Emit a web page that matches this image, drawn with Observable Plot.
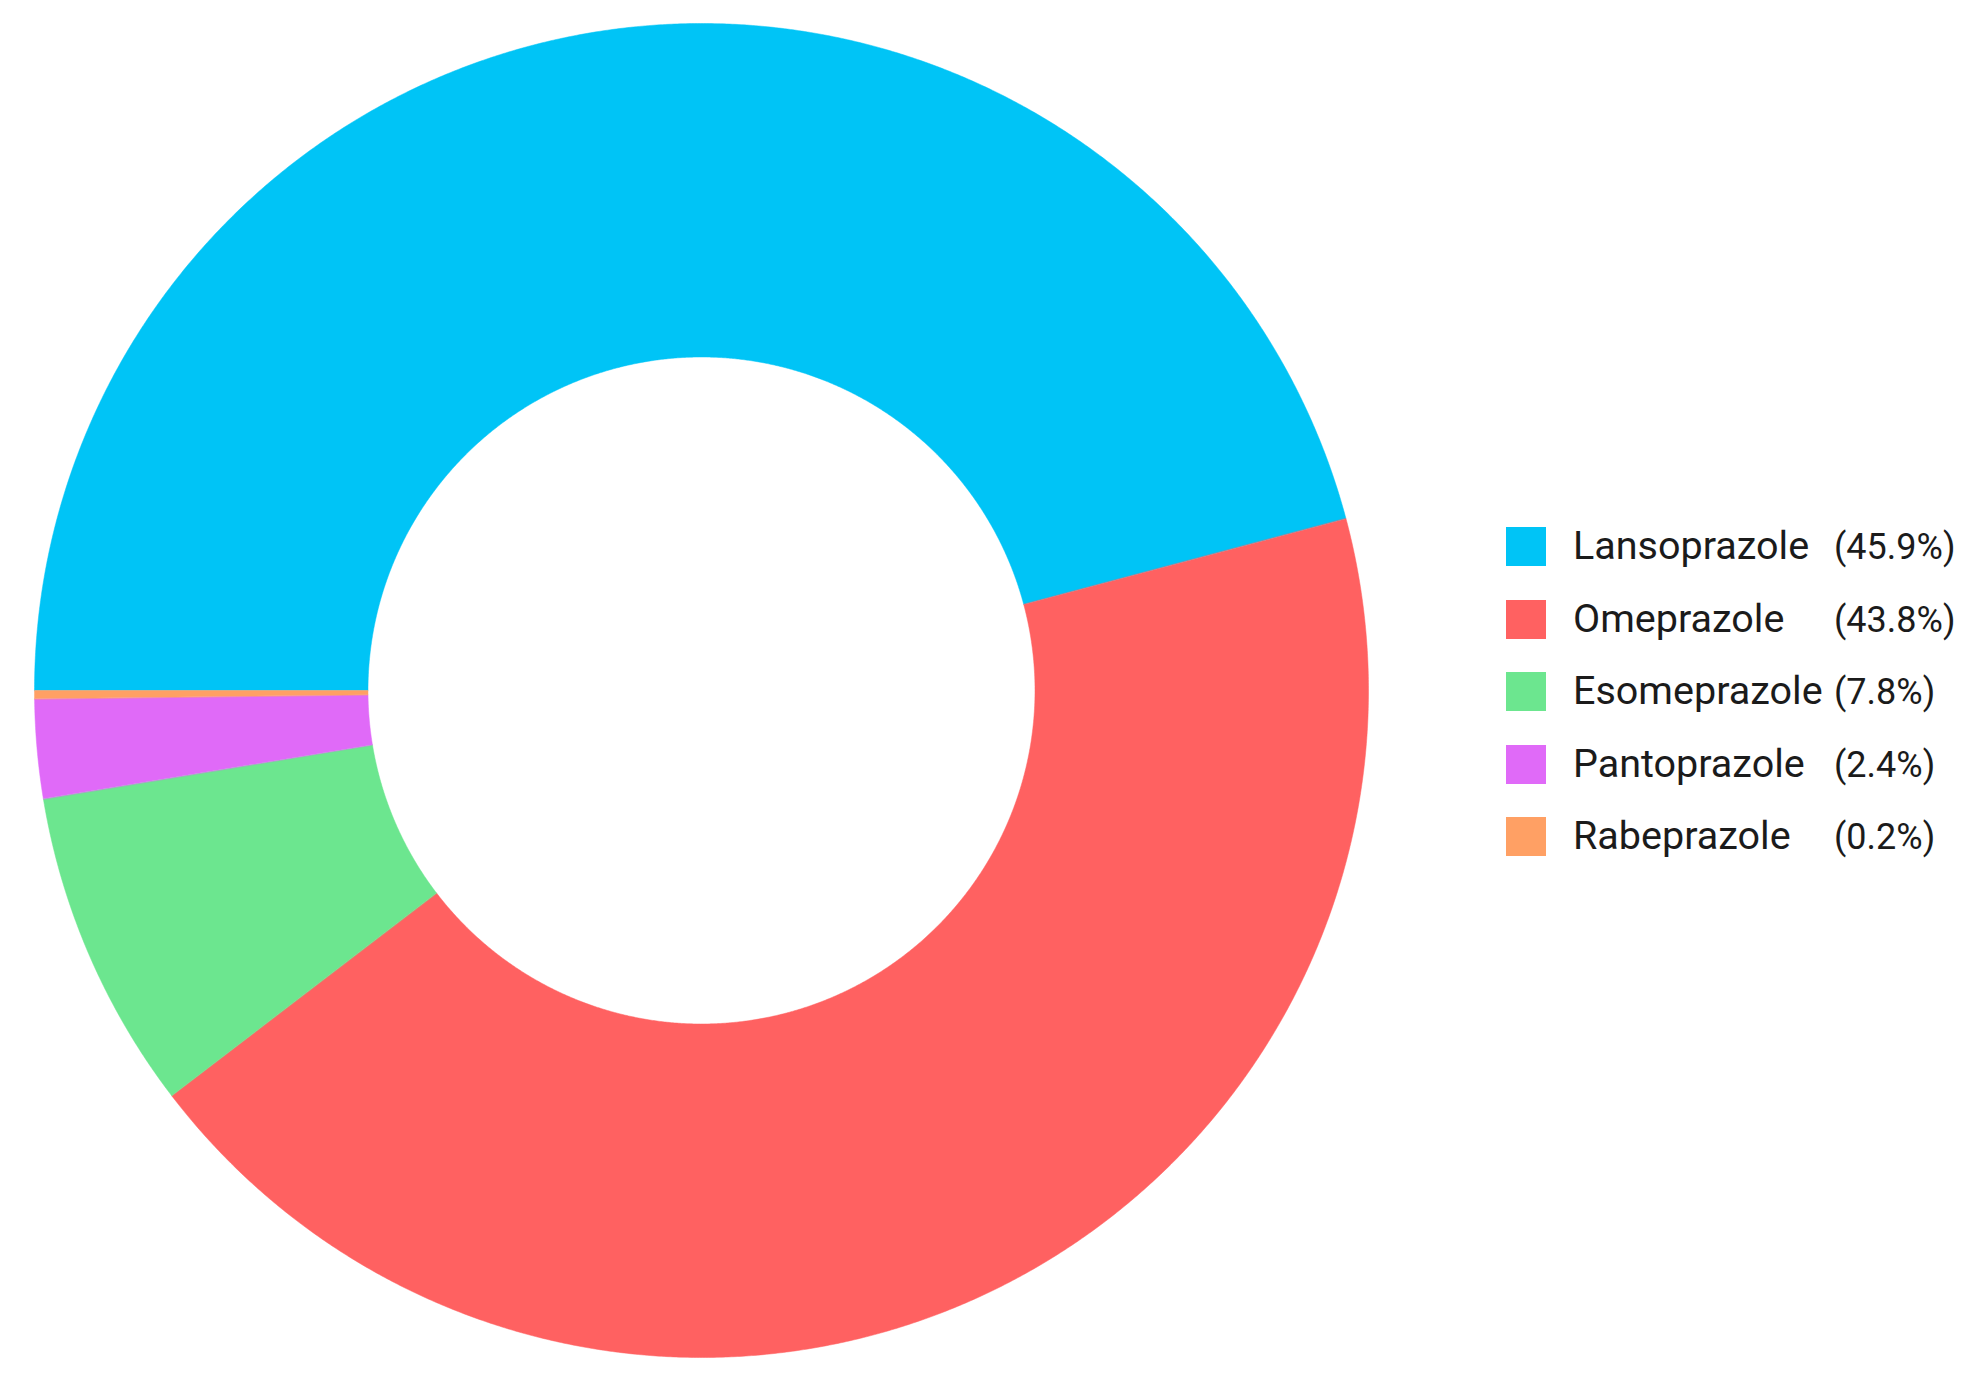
<!DOCTYPE html>
<html>
<head>
<meta charset="utf-8">
<script src="https://cdn.jsdelivr.net/npm/d3@7"></script>
<script src="https://cdn.jsdelivr.net/npm/@observablehq/plot@0.6"></script>
<style>
  html, body { margin: 0; padding: 0; background: #fff; }
  #wrap { position: relative; width: 1971px; height: 1380px; overflow: hidden; }
  #legend { position: absolute; left: 1506px; top: 527px; font-family: Roboto, "Noto Sans", sans-serif; color: #1b1b1b; }
  .row { position: relative; height: 72.5px; }
  .sw { position: absolute; left: 0; top: 0; width: 40px; height: 39px; }
  .lab { position: absolute; left: 67px; top: -6px; font-size: 39.5px; line-height: 50px; white-space: nowrap; }
  .pct { position: absolute; left: 328px; top: -3px; font-size: 36px; line-height: 46px; white-space: nowrap; }
</style>
</head>
<body>
<div id="wrap"><div id="chart"></div><div id="legend"></div></div>
<script>
const labels = ["Lansoprazole", "Omeprazole", "Esomeprazole", "Pantoprazole", "Rabeprazole"];
const shares = [45.9, 43.8, 7.8, 2.4, 0.2];
const colors = ["#00c4f6", "#ff6161", "#6ce68f", "#e06af8", "#ffa064"];
const innerRatio = 0.5;

const arcs = d3.pie().sort(null).startAngle(-Math.PI / 2).endAngle(1.5 * Math.PI)(shares);

// screen-oriented coordinates: angle 0 at 12 o'clock, clockwise, y grows downward
function ring(a, r0, r1) {
  const n = Math.max(2, Math.ceil((a.endAngle - a.startAngle) / (Math.PI / 720)));
  const pts = [];
  for (let i = 0; i <= n; i++) {
    const t = a.startAngle + (a.endAngle - a.startAngle) * i / n;
    pts.push([r1 * Math.sin(t), -r1 * Math.cos(t)]);
  }
  for (let i = n; i >= 0; i--) {
    const t = a.startAngle + (a.endAngle - a.startAngle) * i / n;
    pts.push([r0 * Math.sin(t), -r0 * Math.cos(t)]);
  }
  pts.push(pts[0]);
  return pts;
}

const features = arcs.map((a, i) => ({
  type: "Feature",
  properties: { name: labels[i], share: shares[i] },
  geometry: { type: "Polygon", coordinates: [ring(a, innerRatio, 1)] }
}));

const chart = Plot.plot({
  width: 1971,
  height: 1380,
  marginLeft: 34,
  marginRight: 603,
  marginTop: 23,
  marginBottom: 23,
  projection: {
    type: "identity",
    domain: { type: "Polygon", coordinates: [[[-1, -1], [1, -1], [1, 1], [-1, 1], [-1, -1]]] }
  },
  color: { domain: labels, range: colors },
  marks: [
    Plot.geo(features, { fill: d => d.properties.name, stroke: d => d.properties.name, strokeWidth: 0.5 })
  ]
});
document.getElementById("chart").appendChild(chart);

const legend = document.getElementById("legend");
labels.forEach((name, i) => {
  const row = document.createElement("div");
  row.className = "row";
  row.innerHTML = `<div class="sw" style="background:${colors[i]}"></div><span class="lab">${name}</span><span class="pct">(${shares[i]}%)</span>`;
  legend.appendChild(row);
});
</script>
</body>
</html>
